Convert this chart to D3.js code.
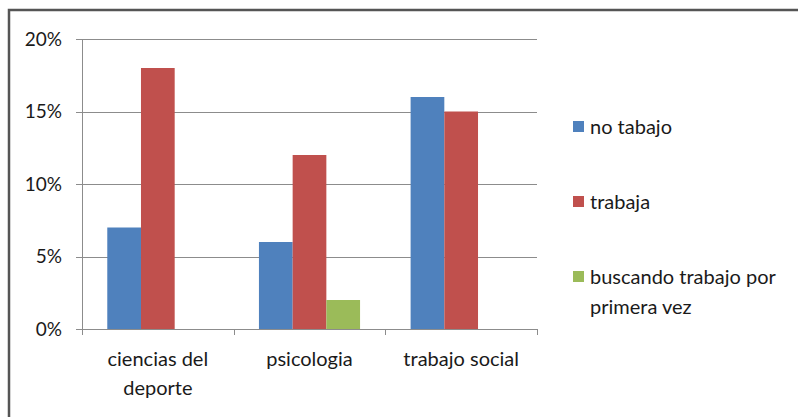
<!DOCTYPE html>
<html>
<head>
<meta charset="utf-8">
<script src="https://cdn.jsdelivr.net/npm/d3@7"></script>
<style>
  body { margin: 0; background: #fff; }
  svg { display: block; font-family: Lato, "Open Sans", sans-serif; }
</style>
</head>
<body>
<svg id="chart" width="798" height="417"></svg>
<script>
const categories = [['ciencias del', 'deporte'], ['psicologia'], ['trabajo social']];
const seriesNames = ['no tabajo', 'trabaja', 'buscando trabajo por primera vez'];
const noTabajo = [7, 6, 16];
const trabaja = [18, 12, 15];
const buscando = [0, 2, 0];
const yTicks = [0, 5, 10, 15, 20];
const colors = ['#4f81bd', '#c0504d', '#9bbb59'];

const series = [noTabajo, trabaja, buscando];

const svg = d3.select('#chart');

// outer frame (only top and left edge visible in the window)
svg.append('rect')
  .attr('x', 9).attr('y', 10)
  .attr('width', 900).attr('height', 500)
  .attr('fill', 'none')
  .attr('stroke', '#555')
  .attr('stroke-width', 2.5);

const plot = { left: 82, right: 537, top: 39, bottom: 329 };

const x = d3.scaleBand()
  .domain(d3.range(categories.length))
  .range([plot.left, plot.right]);

// Excel gap width 150%: 3 bars + 1.5 bar widths of gap per category
const barW = x.bandwidth() / 4.5;

const y = d3.scaleLinear()
  .domain([0, 20])
  .range([plot.bottom, plot.top]);

// gridlines
svg.append('g')
  .selectAll('line')
  .data(yTicks)
  .join('line')
  .attr('x1', plot.left - 6)
  .attr('x2', plot.right)
  .attr('y1', d => Math.round(y(d)) + 0.5)
  .attr('y2', d => Math.round(y(d)) + 0.5)
  .attr('stroke', '#8c8c8c')
  .attr('stroke-width', 1);

// y axis line
svg.append('line')
  .attr('x1', plot.left + 0.5).attr('x2', plot.left + 0.5)
  .attr('y1', plot.top).attr('y2', plot.bottom)
  .attr('stroke', '#8c8c8c');

// y labels
svg.append('g')
  .selectAll('text')
  .data(yTicks)
  .join('text')
  .attr('x', 62)
  .attr('y', d => y(d))
  .attr('dy', '0.35em')
  .attr('text-anchor', 'end')
  .attr('font-size', 19)
  .attr('fill', '#1a1a1a')
  .text(d => d + '%');

// x ticks
const xTickPos = d3.range(categories.length + 1).map(i => plot.left + i * x.step());
svg.append('g')
  .selectAll('line')
  .data(xTickPos)
  .join('line')
  .attr('x1', d => Math.round(d) + 0.5)
  .attr('x2', d => Math.round(d) + 0.5)
  .attr('y1', plot.bottom)
  .attr('y2', plot.bottom + 6)
  .attr('stroke', '#8c8c8c');

// bars
series.forEach((vals, si) => {
  svg.append('g')
    .selectAll('rect')
    .data(vals)
    .join('rect')
    .attr('x', (d, i) => x(i) + barW * 0.75 + si * barW)
    .attr('y', d => y(d))
    .attr('width', barW)
    .attr('height', d => y(0) - y(d))
    .attr('fill', colors[si]);
});

// category labels
const cat = svg.append('g')
  .selectAll('text')
  .data(categories)
  .join('text')
  .attr('x', (d, i) => x(i) + x.bandwidth() / 2)
  .attr('y', 359)
  .attr('text-anchor', 'middle')
  .attr('font-size', 20)
  .attr('fill', '#1a1a1a');
cat.selectAll('tspan')
  .data(d => d)
  .join('tspan')
  .attr('x', function () { return d3.select(this.parentNode).attr('x'); })
  .attr('dy', (d, i) => i === 0 ? '0.35em' : 29)
  .text(d => d);

// legend
const legendY = [127, 202, 277];
const legendLines = [['no tabajo'], ['trabaja'], ['buscando trabajo por', 'primera vez']];
const leg = svg.append('g')
  .selectAll('g')
  .data(seriesNames)
  .join('g')
  .attr('transform', (d, i) => `translate(573,${legendY[i]})`);
leg.append('rect')
  .attr('x', 0).attr('y', -6)
  .attr('width', 11).attr('height', 11)
  .attr('fill', (d, i) => colors[i]);
leg.append('text')
  .attr('x', 17)
  .attr('font-size', 20)
  .attr('fill', '#1a1a1a')
  .selectAll('tspan')
  .data((d, i) => legendLines[i])
  .join('tspan')
  .attr('x', 17)
  .attr('dy', (d, i) => i === 0 ? '0.35em' : 30)
  .text(d => d);
</script>
</body>
</html>
